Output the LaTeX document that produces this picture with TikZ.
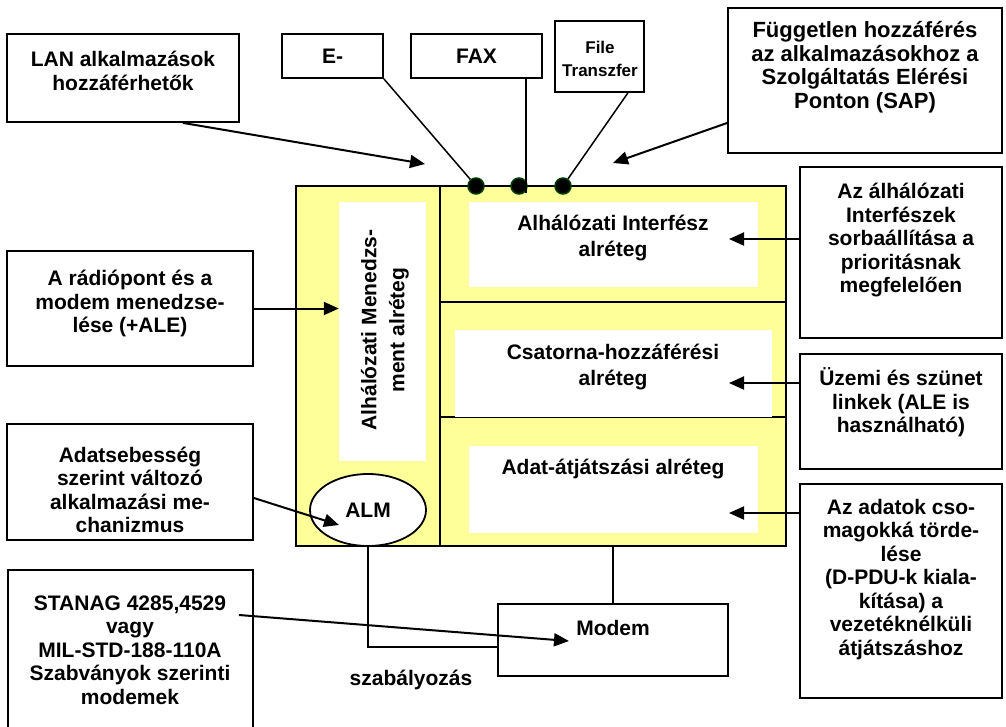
\documentclass[tikz,border=0pt]{standalone}
\usepackage{fontspec}
\setmainfont{Liberation Sans}
\usetikzlibrary{arrows.meta,shapes.geometric}
\definecolor{layeryellow}{RGB}{255,255,153}
\definecolor{dotgreen}{RGB}{0,60,0}

\begin{document}
\begin{tikzpicture}[
  x=1pt, y=-1pt,
  font=\fontsize{21}{23.5}\selectfont\bfseries,
  box/.style={draw, line width=1.8pt, fill=white, inner sep=0pt},
  layer/.style={fill=white, inner sep=0pt},
  txt/.style={align=center, inner sep=0pt},
  sapdot/.style={circle, fill=black, draw=dotgreen, line width=1.5pt,
                 minimum size=16pt, inner sep=0pt},
  arr/.style={-{Triangle[length=15pt,width=13pt]}, line width=2pt},
  link/.style={line width=1.5pt}
]
\clip (0,0) rectangle (1006,726);

% the protocol stack
\node[draw, line width=1.8pt, fill=layeryellow, inner sep=0pt,
      minimum width=490pt, minimum height=360pt] (main) at (541,366) {};
\draw[line width=1.8pt] (440,186) -- (440,546);
\draw[line width=1.8pt] (440,302) -- (786,302);
\draw[line width=1.8pt] (440,417) -- (786,417);

\node[layer, minimum width=87pt,  minimum height=259pt] (mgmt)  at (382.5,331.5) {};
\node[layer, minimum width=289pt, minimum height=85pt]  (sif)   at (613.5,244.5) {};
\node[layer, minimum width=317pt, minimum height=87pt]  (chan)  at (613.5,373.5) {};
\node[layer, minimum width=289pt, minimum height=87pt]  (relay) at (613.5,489.5) {};

\node[txt, rotate=90, font=\fontsize{21}{28}\selectfont\bfseries] (mgmt-t) at (385,330)
  {Alhálózati Menedzs-\\ment alréteg};
\node[txt, font=\fontsize{21}{26}\selectfont\bfseries] (sif-t)  at (613,238.5) {Alhálózati Interfész\\alréteg};
\node[txt, font=\fontsize{21}{26}\selectfont\bfseries] (chan-t) at (613,367.5) {Csatorna-hozzáférési\\alréteg};
\node[txt] (relay-t) at (613,469) {Adat-átjátszási alréteg};

\node[draw, ellipse, line width=1.8pt, fill=white, inner sep=0pt,
      minimum width=116pt, minimum height=72pt] (alm) at (368,510) {ALM};

% service access points
\node[sapdot] (d1) at (476,186) {};
\node[sapdot] (d2) at (519,186) {};
\node[sapdot] (d3) at (563,186) {};

% applications on top
\node[box, minimum width=232pt, minimum height=88pt]  (lan)   at (123,78) {};
\node[txt] (lan-t) at (123,71) {LAN alkalmazások\\hozzáférhetők};
\node[box, minimum width=101pt, minimum height=44pt]  (email) at (332.5,56) {E-};
\node[box, minimum width=131pt, minimum height=44pt]  (fax)   at (476.5,56) {FAX};
\node[box, minimum width=89pt,  minimum height=71pt]  (file)  at (599.5,56.5) {};
\node[txt, font=\fontsize{17}{23}\selectfont\bfseries] (file-t) at (600,58.5) {File\\Transzfer};
\node[box, minimum width=274pt, minimum height=145pt] (sap)   at (865,80.5) {};
\node[txt, font=\fontsize{22}{23.5}\selectfont\bfseries] (sap-t) at (865,67)
  {Független hozzáférés\\az alkalmazásokhoz a\\Szolgáltatás Elérési\\Ponton (SAP)};

% notes on the left
\node[box, minimum width=246pt, minimum height=115pt] (radio)   at (130,308.5) {};
\node[txt] (radio-t) at (130,303.5) {A rádiópont és a\\modem menedzse-\\lése (+ALE)};
\node[box, minimum width=246pt, minimum height=116pt] (almnote) at (130,482) {};
\node[txt] (almnote-t) at (130,490) {Adatsebesség\\szerint változó\\alkalmazási me-\\chanizmus};
\node[box, minimum width=245pt, minimum height=170pt] (stanag)  at (130.5,655) {};
\node[txt] (stanag-t) at (130,650) {STANAG 4285,4529\\vagy\\MIL-STD-188-110A\\Szabványok szerinti\\modemek};

% notes on the right
\node[box, minimum width=202pt, minimum height=171pt] (queue) at (901,252.5) {};
\node[txt] (queue-t) at (901,240.5) {Az álhálózati\\Interfészek\\sorbaállítása a\\prioritásnak\\megfelelően};
\node[box, minimum width=202pt, minimum height=115pt] (links) at (901,411.5) {};
\node[txt] (links-t) at (901,402.5) {Üzemi és szünet\\linkek (ALE is\\használható)};
\node[box, minimum width=202pt, minimum height=214pt] (frag)  at (901,591) {};
\node[txt] (frag-t) at (901,579.5) {Az adatok cso-\\magokká törde-\\lése\\(D-PDU-k kiala-\\kítása) a\\vezetéknélküli\\átjátszáshoz};

% modem below the stack
\draw[line width=1.5pt] (main.south -| 613,0) -- (613,604);
\node[box, line width=1.3pt, minimum width=230pt, minimum height=72pt] (modem) at (613,640) {};
\node[txt] (modem-t) at (613,628) {Modem};
\draw[line width=1.5pt] (alm.south) |- ([yshift=-7pt]modem.west);
\node[txt] (ctrl) at (411,680) {szabályozás};

% connectors
\coordinate (lantip)    at (425,164);
\coordinate (saptip)    at (613,163);
\coordinate (faxend)    at (526,193);
\coordinate (sifin)     at (729,239);
\coordinate (chanin)    at (729,383);
\coordinate (relayin)   at (729,513);
\coordinate (almtip)    at (339,525);
\coordinate (stanagout) at (239,615);
\coordinate (modemtip)  at (569,641);

\draw[link] (email.south east) -- (d1);
\draw[link] (faxend |- fax.south) -- (faxend);
\draw[link] ([xshift=-17pt]file.south east) -- (d3);
\draw[arr] ([xshift=-57pt]lan.south east) -- (lantip);
\draw[arr] ([yshift=-42.5pt]sap.west) -- (saptip);

\draw[arr] (radio.east) -- (radio.east -| mgmt.west);
\draw[arr] ([yshift=-16pt]almnote.east) -- (almtip);
\draw[arr] (stanagout) -- (modemtip);

\draw[arr] (sifin -| queue.west) -- (sifin);
\draw[arr] (chanin -| links.west) -- (chanin);
\draw[arr] (relayin -| frag.west) -- (relayin);
\end{tikzpicture}
\end{document}
